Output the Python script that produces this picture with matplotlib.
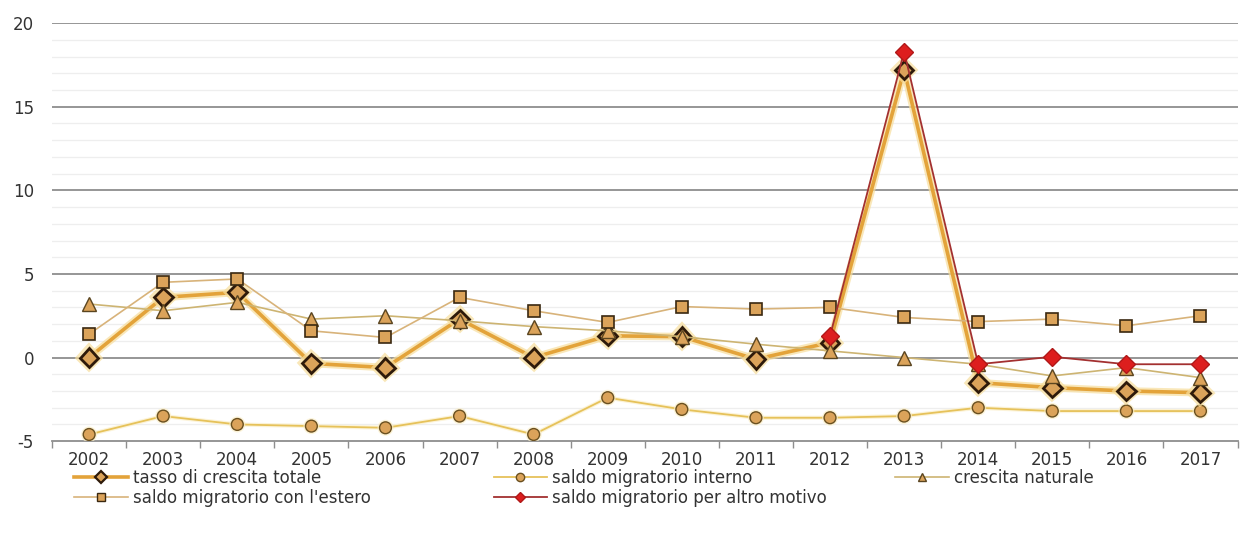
import numpy as np
import matplotlib
matplotlib.use("Agg")
import matplotlib.pyplot as plt
from matplotlib.lines import Line2D
import matplotlib.patheffects as pe

plt.rcParams['font.family'] = ['DejaVu Sans']

years = ["2002", "2003", "2004", "2005", "2006", "2007", "2008", "2009",
         "2010", "2011", "2012", "2013", "2014", "2015", "2016", "2017"]

tasso_totale = [0.0, 3.6, 3.9, -0.35, -0.6, 2.3, 0.0, 1.3,
                1.25, -0.1, 0.9, 17.2, -1.5, -1.8, -2.0, -2.1]
saldo_interno = [-4.6, -3.5, -4.0, -4.1, -4.2, -3.5, -4.6, -2.4,
                 -3.1, -3.6, -3.6, -3.5, -3.0, -3.2, -3.2, -3.2]
crescita_naturale = [3.2, 2.8, 3.3, 2.3, 2.5, 2.2, 1.85, 1.6,
                     1.25, 0.8, 0.4, 0.0, -0.4, -1.1, -0.6, -1.2]
saldo_estero = [1.4, 4.5, 4.7, 1.6, 1.2, 3.6, 2.8, 2.1,
                3.05, 2.9, 3.0, 2.4, 2.15, 2.3, 1.9, 2.5]
# only available from 2012 onwards
altro_years = ["2012", "2013", "2014", "2015", "2016", "2017"]
saldo_altro = [1.3, 18.3, -0.4, 0.05, -0.4, -0.4]

x = np.arange(len(years))
x_altro = np.array([years.index(y) for y in altro_years])

fill = "#DBA35A"
text_color = "#333333"

fig = plt.figure(figsize=(12.4, 5.38), dpi=100)
ax = fig.add_axes([0.042, 0.180, 0.956, 0.777])

# grid: light minor lines every unit, darker ones every 5
for v in range(-5, 21):
    if v % 5:
        ax.axhline(v, color="#EEEEEE", lw=0.9, zorder=0)
for v in range(0, 21, 5):
    ax.axhline(v, color="#8E8E8E", lw=1.3, zorder=1)

halo = [pe.Stroke(linewidth=5.5, foreground="#F7DE9C", alpha=0.7), pe.Normal()]

ax.plot(x, saldo_interno, color="#E6C25A", lw=1.3, marker="o", ms=8.5,
        mfc=fill, mec="#6A5020", mew=1.0, zorder=3,
        path_effects=[pe.Stroke(linewidth=3, foreground="#FBEFC8", alpha=0.7), pe.Normal()])
ax.plot(x, tasso_totale, color="#E3A33A", lw=2.6, marker="D", ms=9.5,
        mfc=fill, mec="#2E1A0A", mew=2.0, zorder=4, path_effects=halo)
ax.plot(x, crescita_naturale, color="#CDB472", lw=1.2, marker="^", ms=9.5,
        mfc=fill, mec="#5A4520", mew=1.0, zorder=5)
ax.plot(x, saldo_estero, color="#D8B37A", lw=1.2, marker="s", ms=9,
        mfc=fill, mec="#3A2810", mew=1.2, zorder=6)
ax.plot(x_altro, saldo_altro, color="#A33030", lw=1.3, marker="D", ms=9,
        mfc="#DD1E1E", mec="#B01818", mew=1.0, zorder=7)

ax.set_xlim(-0.5, len(years) - 0.5)
ax.set_ylim(-5, 20)
ax.set_yticks(range(-5, 21, 5))
ax.set_yticklabels([str(v) for v in range(-5, 21, 5)], fontsize=12, color=text_color)
ax.tick_params(axis="y", length=0, pad=13)

ax.set_xticks(x)
ax.set_xticklabels(years, fontsize=12, color=text_color)
ax.set_xticks(np.arange(-0.5, len(years)), minor=True)
ax.tick_params(axis="x", which="major", length=0, pad=7)
ax.tick_params(axis="x", which="minor", length=5, color="#8E8E8E", width=1)

for s in ["top", "right", "left"]:
    ax.spines[s].set_visible(False)
ax.spines["bottom"].set_color("#8E8E8E")
ax.spines["bottom"].set_linewidth(1.3)


def handle(color, lw, marker, ms, mfc, mec, mew):
    return Line2D([], [], color=color, lw=lw, marker=marker, ms=ms,
                  mfc=mfc, mec=mec, mew=mew)


# three legend columns, filled row by row
columns = [
    (0.060, [(handle("#E3A33A", 2.6, "D", 6, fill, "#2E1A0A", 1.6), "tasso di crescita totale"),
             (handle("#D8B37A", 1.2, "s", 6, fill, "#3A2810", 1.0), "saldo migratorio con l'estero")]),
    (0.398, [(handle("#E6C25A", 1.3, "o", 6, fill, "#6A5020", 1.0), "saldo migratorio interno"),
             (handle("#A33030", 1.3, "D", 5, "#DD1E1E", "#B01818", 1.0), "saldo migratorio per altro motivo")]),
    (0.722, [(handle("#CDB472", 1.2, "^", 6, fill, "#5A4520", 1.0), "crescita naturale")]),
]
for xpos, items in columns:
    leg = fig.legend([h for h, _ in items], [t for _, t in items],
                     loc="upper left", bbox_to_anchor=(xpos, 0.128),
                     frameon=False, fontsize=12, handlelength=3.2,
                     handletextpad=0.3, labelspacing=0.1, borderaxespad=0,
                     borderpad=0)
    for t in leg.get_texts():
        t.set_color(text_color)

fig.savefig("out.png", dpi=100, facecolor="white")
